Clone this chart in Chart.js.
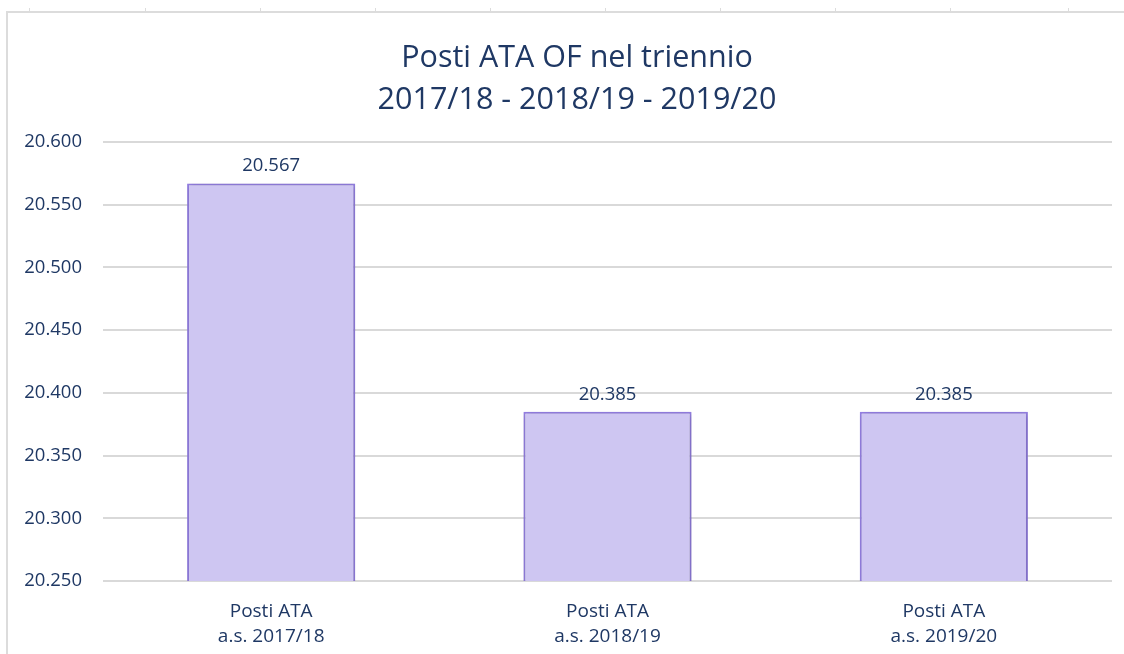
<!DOCTYPE html>
<html lang="it">
<head>
<meta charset="utf-8">
<script src="https://cdn.jsdelivr.net/npm/chart.js@4.4.0/dist/chart.umd.min.js"></script>
<style>
    html, body { margin: 0; padding: 0; background: #fff; }
    .wrap { position: relative; width: 1124px; height: 654px; overflow: hidden; }
    .frame { position: absolute; left: 6px; top: 11px; right: 0; bottom: 0;
             border-left: 2px solid #dcdcdc; border-top: 2px solid #dcdcdc; }
    .colmark { position: absolute; top: 8px; width: 1px; height: 4px; background: #dcdcdc; }
    canvas { position: absolute; left: 0; top: 0; }
</style>
</head>
<body>
<div class="wrap" id="wrap">
    <div class="frame"></div>
    <canvas id="posti-ata-chart" width="1124" height="654"></canvas>
</div>
<script>
const titleLines = ['Posti ATA OF nel triennio', '2017/18 - 2018/19 - 2019/20'];
const categories = [
    ['Posti ATA', 'a.s. 2017/18'],
    ['Posti ATA', 'a.s. 2018/19'],
    ['Posti ATA', 'a.s. 2019/20']
];
const postiAta = [20567, 20385, 20385];
const yMin = 20250;
const yMax = 20600;
const yStep = 50;

const textColor = '#1f3864';

// excel column marks along the top border
[29, 145, 260, 375, 490, 605, 720, 835, 950, 1068].forEach(function (x) {
    const mark = document.createElement('div');
    mark.className = 'colmark';
    mark.style.left = x + 'px';
    document.getElementById('wrap').appendChild(mark);
});

function formatIt(value) {
    return String(Math.round(value)).replace(/\B(?=(\d{3})+(?!\d))/g, '.');
}

// the excel title sits a bit right of the canvas centre, so it is drawn by hand
const excelTitle = {
    id: 'excelTitle',
    afterDraw: function (chart) {
        const ctx = chart.ctx;
        ctx.save();
        ctx.font = '30.5px "Open Sans"';
        ctx.fillStyle = textColor;
        ctx.textAlign = 'center';
        ctx.textBaseline = 'middle';
        titleLines.forEach(function (line, i) {
            ctx.fillText(line, 577, 58 + i * 42);
        });
        ctx.restore();
    }
};

const barShadow = {
    id: 'barShadow',
    beforeDatasetDraw: function (chart) {
        const ctx = chart.ctx;
        ctx.save();
        ctx.shadowColor = 'rgba(0, 0, 0, 0.22)';
        ctx.shadowBlur = 6;
        ctx.shadowOffsetX = 1;
        ctx.shadowOffsetY = 1;
    },
    afterDatasetDraw: function (chart) {
        chart.ctx.restore();
    }
};

const valueLabels = {
    id: 'valueLabels',
    afterDatasetsDraw: function (chart) {
        const ctx = chart.ctx;
        const meta = chart.getDatasetMeta(0);
        ctx.save();
        ctx.font = '18.5px "Open Sans"';
        ctx.fillStyle = textColor;
        ctx.textAlign = 'center';
        ctx.textBaseline = 'bottom';
        meta.data.forEach(function (bar, i) {
            ctx.fillText(formatIt(postiAta[i]), bar.x, bar.y - 8);
        });
        ctx.restore();
    }
};

const chartCanvas = document.getElementById('posti-ata-chart');
const postiChart = new Chart(chartCanvas, {
    type: 'bar',
    data: {
        labels: categories,
        datasets: [
            {
                data: postiAta,
                backgroundColor: '#cec6f2',
                borderColor: '#9580e4',
                borderWidth: 2,
                borderSkipped: 'bottom',
                barPercentage: 0.5,
                categoryPercentage: 1
            }
        ]
    },
    options: {
        responsive: false,
        animation: false,
        layout: {
            padding: {top: 142, right: 12, bottom: 0, left: 0}
        },
        plugins: {
            legend: {display: false},
            tooltip: {enabled: false},
            title: {display: false}
        },
        scales: {
            x: {
                grid: {display: false, drawTicks: false},
                border: {display: false},
                ticks: {
                    color: textColor,
                    font: {family: 'Open Sans', size: 19, lineHeight: 1.32},
                    padding: 18
                },
                afterFit: function (scale) {
                    scale.height = 73;
                }
            },
            y: {
                min: yMin,
                max: yMax,
                grid: {color: '#d9d9d9', lineWidth: 2, drawTicks: false},
                border: {display: false},
                ticks: {
                    stepSize: yStep,
                    color: textColor,
                    font: {family: 'Open Sans', size: 18.5},
                    padding: 21,
                    callback: function (value) {
                        return formatIt(value);
                    }
                },
                afterFit: function (scale) {
                    scale.width = 103;
                }
            }
        }
    },
    plugins: [barShadow, valueLabels, excelTitle]
});
</script>
</body>
</html>
